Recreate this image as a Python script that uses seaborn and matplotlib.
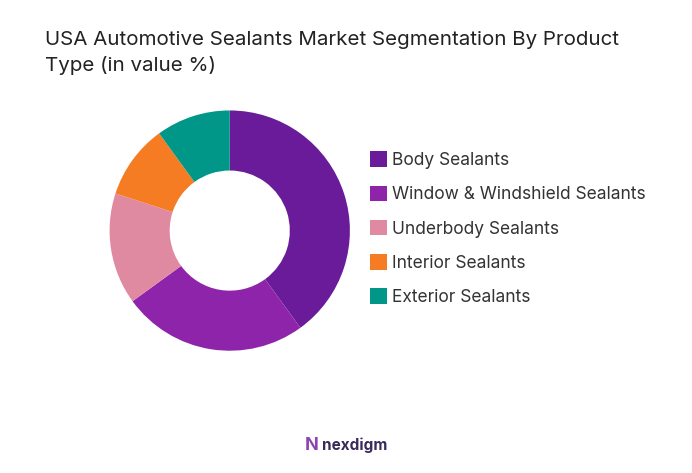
import matplotlib
matplotlib.use("Agg")
import matplotlib.pyplot as plt
import seaborn as sns

sns.set_theme(style="white")
plt.rcParams['font.family'] = ['Inter', 'DejaVu Sans']

labels = ["Body Sealants", "Window & Windshield Sealants", "Underbody Sealants",
          "Interior Sealants", "Exterior Sealants"]
values = [40, 25, 15, 10, 10]
colors = ["#6A1B9A", "#8E24AA", "#E08AA2", "#F57C22", "#009688"]

fig = plt.figure(figsize=(6.92, 4.73), dpi=100)
fig.patch.set_facecolor("white")
ax = fig.add_axes([0.102, 0.195, 0.46, 0.635])
wedges, _ = ax.pie(values, colors=colors, startangle=90, counterclock=False,
                   wedgeprops=dict(width=0.5, edgecolor="white", linewidth=0))
ax.set_aspect("equal")

fig.text(0.065, 0.915, "USA Automotive Sealants Market Segmentation By Product",
         fontsize=14.8, color="#222222", va="center")
fig.text(0.065, 0.862, "Type (in value %)", fontsize=14.8, color="#222222", va="center")

fig.legend(wedges, labels, loc="upper left", bbox_to_anchor=(0.512, 0.713),
           frameon=False, fontsize=12.5, handlelength=1.0, handleheight=1.0,
           handletextpad=0.3, labelspacing=0.95, labelcolor="#333333")

fig.text(0.465, 0.058, "nexdigm", fontsize=11, color="#3a2a5a", ha="left",
         va="center", fontweight="bold")
fig.text(0.45, 0.058, "N", fontsize=13, color="#8E44AD", ha="center",
         va="center", fontweight="bold")

fig.savefig("out.png", dpi=100)
